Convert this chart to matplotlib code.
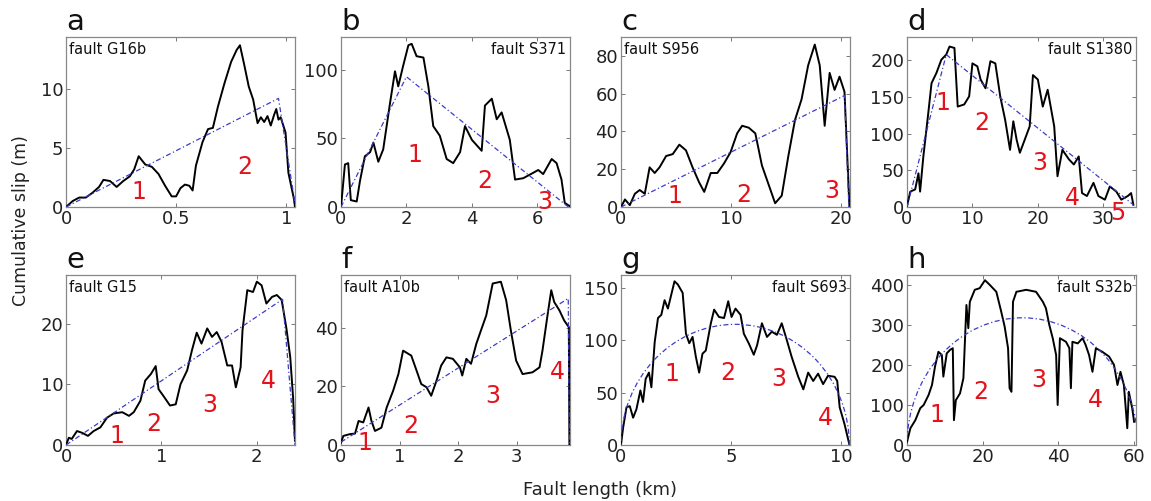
import numpy as np
import matplotlib.pyplot as plt
from matplotlib.patches import Arc
from matplotlib.ticker import FormatStrFormatter

# ---- slip profiles (km, m) ----
xa = [0, 0.03, 0.06, 0.09, 0.12, 0.15, 0.17, 0.2, 0.23, 0.26, 0.29, 0.31, 0.33, 0.36, 0.39,
      0.42, 0.45, 0.48, 0.5, 0.52, 0.54, 0.56, 0.575, 0.59, 0.62, 0.645, 0.667, 0.69, 0.72,
      0.75, 0.775, 0.79, 0.81, 0.83, 0.85, 0.87, 0.885, 0.9, 0.915, 0.93, 0.945, 0.955, 0.965,
      0.975, 0.997, 1.01, 1.035, 1.04]
ya = [0, 0.5, 0.8, 0.8, 1.2, 1.7, 2.3, 2.2, 1.7, 2.2, 2.6, 3.2, 4.3, 3.6, 3.4,
      2.8, 1.8, 0.9, 0.9, 1.6, 1.9, 1.8, 1.4, 3.5, 5.5, 6.6, 6.7, 8.5, 10.5,
      12.3, 13.3, 13.7, 12.0, 10.2, 9.1, 7.1, 7.6, 7.2, 7.7, 6.9, 7.8, 8.3, 7.4,
      7.6, 6.3, 2.9, 0.7, 0]

xb = [0, 0.12, 0.22, 0.3, 0.48, 0.58, 0.73, 0.89, 0.99, 1.14, 1.29, 1.5, 1.65, 1.75, 1.9,
      2.06, 2.16, 2.31, 2.52, 2.67, 2.82, 3.02, 3.23, 3.43, 3.64, 3.79, 4.0, 4.3, 4.4, 4.61,
      4.76, 4.91, 5.16, 5.32, 5.57, 5.88, 6.03, 6.18, 6.44, 6.59, 6.74, 6.84, 7.0]
yb = [0, 31, 32, 5, 4, 19, 37, 40, 47, 33, 42, 76, 99, 88, 103,
      118, 119, 110, 109, 88, 59, 52, 35, 32, 40, 59, 49, 41, 74, 79,
      64, 69, 49, 20, 21, 25, 27, 24, 35, 32, 20, 3, 0.5]

xc = [0, 0.36, 0.8, 1.26, 1.7, 2.16, 2.6, 3.06, 3.5, 4.1, 4.7, 5.3, 5.9, 6.5, 7.1, 7.56,
      8.15, 8.75, 9.35, 9.95, 10.55, 11.0, 11.6, 12.2, 12.8, 13.4, 14.0, 14.6, 15.2, 15.8,
      16.4, 17.0, 17.6, 18.05, 18.5, 18.95, 19.4, 19.85, 20.3, 20.75]
yc = [0, 4, 1, 7, 9, 7, 21, 18, 21, 27, 28, 33, 30, 21, 13, 8,
      18, 18, 23, 29, 39, 43, 42, 39, 22, 12, 2, 6, 27, 46,
      57, 75, 86, 75, 43, 71, 62, 69, 61, 0]

xd = [0, 0.5, 1.25, 1.75, 2.0, 2.5, 3.25, 3.75, 4.5, 5.25, 6.0, 6.5, 7.25, 7.75, 8.75,
      9.5, 10, 10.75, 11.25, 12, 12.75, 13.5, 14.25, 15, 15.75, 16.25, 16.75, 17.25, 18,
      18.75, 19.25, 20, 20.75, 21.5, 22.5, 23, 23.75, 24.75, 25.5, 26.25, 26.75, 27.5,
      28.5, 29.25, 30.25, 31, 32, 32.75, 33.75, 34.25, 34.6]
yd = [1, 21, 24, 46, 21, 69, 128, 169, 183, 201, 208, 219, 217, 137, 140,
      151, 196, 192, 174, 162, 199, 196, 151, 119, 78, 117, 92, 74, 92,
      110, 180, 174, 137, 160, 110, 42, 78, 65, 58, 69, 19, 15,
      33, 15, 10, 28, 21, 10, 15, 19, 3]

xe = [0, 0.03, 0.06, 0.115, 0.17, 0.23, 0.29, 0.36, 0.43, 0.5, 0.59, 0.66, 0.71, 0.78,
      0.83, 0.89, 0.94, 0.97, 1.02, 1.09, 1.15, 1.2, 1.27, 1.32, 1.37, 1.42, 1.48, 1.53,
      1.58, 1.63, 1.69, 1.74, 1.78, 1.83, 1.85, 1.9, 1.96, 2.0, 2.05, 2.1, 2.16, 2.21,
      2.26, 2.31, 2.35, 2.38, 2.4]
ye = [0, 1.2, 1.0, 2.3, 2.0, 1.5, 2.3, 2.9, 4.5, 5.2, 5.4, 4.8, 5.4, 7.3,
      10.6, 11.7, 13.0, 9.2, 8.1, 6.5, 6.7, 10.0, 12.3, 15.6, 18.5, 16.7, 19.2, 17.8,
      18.6, 17.0, 13.1, 13.1, 9.5, 12.8, 18.9, 25.5, 25.2, 26.9, 26.3, 23.3, 24.4, 24.7,
      23.9, 19.2, 14.5, 7.8, 0.7]

xf = [0, 0.04, 0.15, 0.24, 0.3, 0.38, 0.47, 0.52, 0.58, 0.69, 0.78, 0.89, 0.98, 1.06,
      1.2, 1.29, 1.37, 1.46, 1.54, 1.63, 1.71, 1.8, 1.91, 2.03, 2.07, 2.14, 2.22, 2.31,
      2.39, 2.48, 2.59, 2.73, 2.82, 2.9, 2.99, 3.1, 3.27, 3.39, 3.44, 3.53, 3.59, 3.64,
      3.73, 3.81, 3.89, 3.9]
yf = [0.8, 3.1, 3.7, 3.9, 8.2, 7.7, 12.8, 8.2, 4.8, 5.9, 12.8, 18.5, 24.2, 32.2,
      30.5, 25.4, 20.8, 19.7, 16.8, 21.9, 27.1, 29.9, 29.4, 26.5, 23.7, 29.4, 27.7, 34.5,
      39.1, 44.2, 55.1, 55.7, 49.4, 39.1, 28.8, 24.2, 24.8, 26.5, 32.2, 44.8, 52.8, 48.8,
      45.9, 42.5, 40.2, 0]

xg = [0, 0.1, 0.25, 0.4, 0.55, 0.7, 0.88, 1.0, 1.12, 1.27, 1.38, 1.53, 1.68, 1.83, 1.98,
      2.13, 2.28, 2.43, 2.58, 2.8, 2.95, 3.1, 3.25, 3.4, 3.55, 3.7, 3.85, 4.08, 4.23, 4.45,
      4.68, 4.87, 5.02, 5.2, 5.43, 5.58, 5.8, 6.03, 6.18, 6.4, 6.63, 6.85, 7.08, 7.3, 7.53,
      7.75, 8.05, 8.28, 8.5, 8.73, 8.95, 9.18, 9.4, 9.7, 9.82, 9.93, 10.15, 10.37]
yg = [0.6, 17, 36, 37, 26, 34, 52, 41, 63, 69, 55, 98, 121, 124, 138,
      130, 143, 156, 153, 145, 106, 97, 103, 84, 69, 87, 90, 116, 129, 122,
      121, 137, 122, 130, 124, 106, 97, 86, 95, 116, 103, 108, 105, 116, 100,
      84, 65, 53, 69, 61, 68, 58, 66, 65, 61, 36, 20, 0.6]

xh = [0, 0.9, 2.2, 3.5, 4.4, 5.7, 6.6, 7.4, 8.3, 9.2, 9.6, 10.5, 11.4, 12.1, 12.4, 12.9,
      14.0, 14.9, 15.7, 16.2, 16.6, 17.9, 19.2, 20.6, 21.9, 23.6, 24.9, 25.8, 26.7, 27.1,
      27.6, 28.0, 28.9, 31.5, 34.1, 35.9, 36.7, 37.6, 38.5, 39.4, 39.8, 40.4, 42.0, 42.9,
      43.3, 43.7, 45.1, 46.4, 47.2, 48.1, 49.0, 49.9, 51.6, 53.4, 54.7, 55.6, 56.4, 57.3,
      58.2, 58.6, 59.5, 60.0]
yh = [8, 42, 62, 92, 100, 125, 150, 196, 233, 225, 171, 229, 238, 242, 62, 112,
      129, 167, 350, 292, 358, 388, 392, 412, 400, 383, 333, 296, 242, 142,
      133, 358, 383, 388, 383, 358, 342, 300, 267, 225, 100, 267, 258, 242,
      142, 258, 254, 267, 250, 225, 183, 242, 233, 221, 200, 150, 183, 150,
      42, 133, 92, 58]

# ---- fitted models: triangle vertices or ellipse (length, max slip) ----
tri_a = ([0, 0.965, 1.04], [0, 9.2, 0.3])
tri_b = ([0, 2.0, 6.95], [0, 95, 0])
tri_c = ([0, 20.3, 20.7], [0, 59, 0])
tri_d = ([0, 6.0, 34.6], [0, 208, 3])
tri_e = ([0, 2.27, 2.4], [0, 24, 0])
tri_f = ([0, 3.88, 3.9], [1, 50, 0])
ell_g = (10.37, 115)
ell_h = (61.0, 318)

letters = ['a', 'b', 'c', 'd', 'e', 'f', 'g', 'h']
names = ['fault G16b', 'fault S371', 'fault S956', 'fault S1380',
         'fault G15', 'fault A10b', 'fault S693', 'fault S32b']
name_right = [False, True, False, True, False, False, True, True]
profiles = [(xa, ya), (xb, yb), (xc, yc), (xd, yd), (xe, ye), (xf, yf), (xg, yg), (xh, yh)]
fits = [tri_a, tri_b, tri_c, tri_d, tri_e, tri_f, ell_g, ell_h]
xlims = [1.04, 7.0, 20.8, 35.0, 2.4, 3.91, 10.4, 60.5]
ylims = [14.4, 124, 90, 232, 28, 58, 162, 425]
xticks = [[0, 0.5, 1], [0, 2, 4, 6], [0, 10, 20], [0, 10, 20, 30],
          [0, 1, 2], [0, 1, 2, 3], [0, 5, 10], [0, 20, 40, 60]]
yticks = [[0, 5, 10], [0, 50, 100], [0, 20, 40, 60, 80], [0, 50, 100, 150, 200],
          [0, 10, 20], [0, 20, 40], [0, 50, 100, 150], [0, 100, 200, 300, 400]]
# red segment numbers: (x, y) positions
seg_a = [(0.33, 1.3), (0.81, 3.4)]
seg_b = [(2.26, 38), (4.4, 19), (6.23, 4)]
seg_c = [(4.86, 5.7), (11.15, 6.5), (19.1, 8.3)]
seg_d = [(5.5, 142), (11.5, 115), (20.25, 60), (25.25, 12), (32.25, -8)]
seg_e = [(0.53, 1.5), (0.92, 3.5), (1.51, 6.6), (2.12, 10.5)]
seg_f = [(0.41, 0.8), (1.19, 6.5), (2.59, 16.8), (3.7, 24.8)]
seg_g = [(2.32, 68), (4.87, 69), (7.15, 63), (9.28, 26)]
seg_h = [(8.0, 75), (19.4, 133), (34.8, 162), (49.7, 112)]
segs = [seg_a, seg_b, seg_c, seg_d, seg_e, seg_f, seg_g, seg_h]

fig = plt.figure(figsize=(11.51, 5.01), dpi=100)
lefts = [66, 341, 621, 907]
tops = [37, 275]
w, h = 229, 170
blue = '#3b3bc8'

for i in range(8):
    r, c = divmod(i, 4)
    ax = fig.add_axes([lefts[c] / 1151, 1 - (tops[r] + h) / 501, w / 1151, h / 501])
    px, py = profiles[i]
    ax.plot(px, py, color='black', lw=1.4, zorder=3)
    f = fits[i]
    if isinstance(f[0], list):
        ax.plot(f[0], f[1], color=blue, lw=0.9, ls=(0, (4, 2, 1, 2)), zorder=4)
    else:
        L, D = f
        ax.add_patch(Arc((L / 2, 0), L, 2 * D, theta1=0, theta2=180, color=blue,
                         lw=0.9, ls=(0, (4, 2, 1, 2)), zorder=4))
    ax.set_xlim(0, xlims[i])
    ax.set_ylim(0, ylims[i])
    ax.set_xticks(xticks[i])
    ax.set_yticks(yticks[i])
    ax.xaxis.set_major_formatter(FormatStrFormatter('%g'))
    ax.tick_params(direction='in', top=True, right=True, length=3, width=0.7,
                   color='#777777', labelsize=13, pad=2, labelcolor='#222222')
    for s in ax.spines.values():
        s.set_color('#888888')
        s.set_linewidth(0.9)
    for k, (sx, sy) in enumerate(segs[i]):
        ax.text(sx, sy, str(k + 1), color='#e3121b', fontsize=17, ha='center',
                va='center', zorder=5)
    if name_right[i]:
        ax.text(0.985, 0.97, names[i], transform=ax.transAxes, ha='right', va='top',
                fontsize=10.5, color='#111111')
    else:
        ax.text(0.015, 0.97, names[i], transform=ax.transAxes, ha='left', va='top',
                fontsize=10.5, color='#111111')
    ax.text(0.0, 1.04, letters[i], transform=ax.transAxes, ha='left', va='baseline',
            fontsize=21, color='#111111')

fig.text(0.018, 0.56, 'Cumulative slip (m)', rotation=90, ha='center', va='center',
         fontsize=12.5, color='#222222')
fig.text(0.521, 0.022, 'Fault length (km)', ha='center', va='center',
         fontsize=13, color='#222222')

plt.savefig('out.png', dpi=100)
